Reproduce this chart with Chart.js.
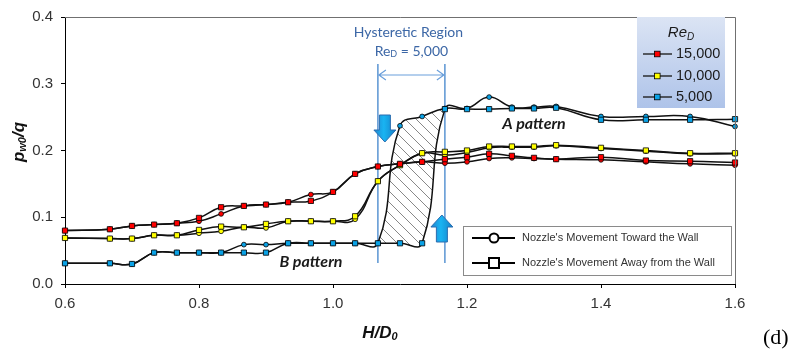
<!DOCTYPE html>
<html>
<head>
<meta charset="utf-8">
<script src="https://cdn.jsdelivr.net/npm/chart.js@4.4.0/dist/chart.umd.min.js"></script>
<style>
  html, body { margin: 0; padding: 0; background: #ffffff; }
  canvas { display: block; }
</style>
</head>
<body>
<canvas id="chart" width="796" height="349"></canvas>
<script>
// Nozzle-to-wall distance stations, H/D0
const hd = [0.6, 0.667, 0.7, 0.733, 0.767, 0.8, 0.833, 0.867, 0.9, 0.933, 0.967, 1.0, 1.033,
            1.067, 1.1, 1.133, 1.167, 1.2, 1.233, 1.267, 1.3, 1.333, 1.4, 1.467, 1.533, 1.6];

// Wall pressure coefficient pw0/q, nozzle moving toward the wall
const re15Toward = [0.080, 0.082, 0.087, 0.089, 0.091, 0.094, 0.105, 0.117, 0.119, 0.1225, 0.134, 0.138, 0.165,
                    0.176, 0.180, 0.183, 0.181, 0.183, 0.188, 0.189, 0.188, 0.187, 0.186, 0.183, 0.180, 0.178];
const re10Toward = [0.069, 0.068, 0.068, 0.073, 0.073, 0.076, 0.079, 0.085, 0.084, 0.094, 0.094, 0.094, 0.097,
                    0.154, 0.178, 0.196, 0.193, 0.197, 0.204, 0.205, 0.205, 0.207, 0.203, 0.199, 0.195, 0.195];
const re5Toward  = [0.031, 0.031, 0.030, 0.047, 0.047, 0.047, 0.047, 0.059, 0.059, 0.061, 0.061, 0.061, 0.061,
                    0.061, 0.237, 0.251, 0.263, 0.263, 0.280, 0.265, 0.265, 0.266, 0.251, 0.251, 0.251, 0.236];

// Wall pressure coefficient pw0/q, nozzle moving away from the wall
const re15Away = [0.080, 0.082, 0.087, 0.089, 0.091, 0.099, 0.115, 0.117, 0.119, 0.1225, 0.1245, 0.138, 0.165,
                  0.176, 0.180, 0.183, 0.187, 0.190, 0.195, 0.192, 0.189, 0.187, 0.190, 0.185, 0.184, 0.182];
const re10Away = [0.069, 0.068, 0.068, 0.073, 0.073, 0.081, 0.086, 0.085, 0.090, 0.094, 0.094, 0.094, 0.1015,
                  0.154, 0.178, 0.196, 0.198, 0.200, 0.206, 0.206, 0.206, 0.208, 0.204, 0.200, 0.196, 0.196];
const re5Away  = [0.031, 0.031, 0.030, 0.047, 0.047, 0.047, 0.047, 0.047, 0.047, 0.061, 0.061, 0.061, 0.061,
                  0.061, 0.061, 0.061, 0.262, 0.262, 0.262, 0.263, 0.263, 0.264, 0.246, 0.246, 0.246, 0.247];

// Axis ticks and legend texts
const xTicks = [0.6, 0.8, 1.0, 1.2, 1.4, 1.6];
const yTicks = [0.0, 0.1, 0.2, 0.3, 0.4];
const reLabels = ['15,000', '10,000', '5,000'];
const moveLabels = ["Nozzle's Movement Toward the Wall", "Nozzle's Movement Away from the Wall"];

// Hysteretic region bounds for ReD = 5,000 (H/D0)
const hystStart = 1.067;
const hystEnd = 1.167;

const RED = '#ff0000', YELLOW = '#ffff00', BLUE = '#0aa2e6';
const SANS = '"Liberation Sans", Arial, sans-serif';

function series(label, ys, color, style) {
  return {
    label,
    data: hd.map((x, i) => ({ x, y: ys[i] })),
    borderColor: '#111111',
    borderWidth: 1.5,
    backgroundColor: color,
    pointBackgroundColor: color,
    pointBorderColor: '#000000',
    pointBorderWidth: 0.8,
    pointStyle: style,
    pointRadius: style === 'rect' ? 3.7 : 2.4,
    tension: 0.45,
    fill: false,
    clip: false
  };
}

const datasets = [
  series('15,000 away', re15Away, RED, 'rect'),
  series('10,000 away', re10Away, YELLOW, 'rect'),
  series('5,000 away', re5Away, BLUE, 'rect'),
  series('15,000 toward', re15Toward, RED, 'circle'),
  series('10,000 toward', re10Toward, YELLOW, 'circle'),
  series('5,000 toward', re5Toward, BLUE, 'circle')
];

// diagonal hatch tile for the hysteresis loop
function hatchPattern(ctx) {
  const s = 11;
  const tile = document.createElement('canvas');
  tile.width = s; tile.height = s;
  const t = tile.getContext('2d');
  t.strokeStyle = '#7a7a7a';
  t.lineWidth = 0.9;
  t.beginPath();
  t.moveTo(0, 0); t.lineTo(s, s);
  t.moveTo(-s / 2, s / 2); t.lineTo(s / 2, s * 1.5);
  t.moveTo(s / 2, -s / 2); t.lineTo(s * 1.5, s / 2);
  t.stroke();
  return ctx.createPattern(tile, 'repeat');
}

function richText(ctx, parts, x, y, align) {
  let w = 0;
  parts.forEach(p => { ctx.font = p[1]; w += ctx.measureText(p[0]).width; });
  let cx = align === 'center' ? x - w / 2 : (align === 'right' ? x - w : x);
  ctx.textAlign = 'left';
  ctx.textBaseline = 'middle';
  parts.forEach(p => {
    ctx.font = p[1];
    ctx.fillText(p[0], cx, y + (p[2] || 0));
    cx += ctx.measureText(p[0]).width;
  });
}

function curvePath(ctx, pts, i0, i1) {
  ctx.moveTo(pts[i0].x, pts[i0].y);
  for (let i = i0 + 1; i <= i1; i++) {
    ctx.bezierCurveTo(pts[i - 1].cp2x, pts[i - 1].cp2y, pts[i].cp1x, pts[i].cp1y, pts[i].x, pts[i].y);
  }
}

function blockArrow(ctx, cx, yTail, yTip, headW, shaftW, headLen) {
  const dir = yTip > yTail ? 1 : -1;
  const yBase = yTip - dir * headLen;
  ctx.beginPath();
  ctx.moveTo(cx - shaftW / 2, yTail);
  ctx.lineTo(cx + shaftW / 2, yTail);
  ctx.lineTo(cx + shaftW / 2, yBase);
  ctx.lineTo(cx + headW / 2, yBase);
  ctx.lineTo(cx, yTip);
  ctx.lineTo(cx - headW / 2, yBase);
  ctx.lineTo(cx - shaftW / 2, yBase);
  ctx.closePath();
  const g = ctx.createLinearGradient(cx - headW / 2, 0, cx + headW / 2, 0);
  g.addColorStop(0, '#1f86cf');
  g.addColorStop(0.45, '#19b4f2');
  g.addColorStop(1, '#1580c8');
  ctx.fillStyle = g;
  ctx.fill();
  ctx.strokeStyle = '#2a6db0';
  ctx.lineWidth = 1;
  ctx.stroke();
}

const decor = {
  id: 'decor',
  beforeDatasetsDraw(chart) {
    const ctx = chart.ctx;
    const xs = chart.scales.x;
    const area = chart.chartArea;
    const towardMeta = chart.getDatasetMeta(5);
    const awayMeta = chart.getDatasetMeta(2);
    towardMeta.dataset.updateControlPoints(area, 'x');
    awayMeta.dataset.updateControlPoints(area, 'x');
    const i0 = hd.indexOf(hystStart), i1 = hd.indexOf(hystEnd);
    const tp = towardMeta.data, ap = awayMeta.data;

    // hatched area between the two Re=5,000 branches
    ctx.save();
    ctx.beginPath();
    curvePath(ctx, ap, i0, i1);
    ctx.lineTo(ap[i1].x + 2, area.top);
    ctx.lineTo(ap[i0].x - 2, area.top);
    ctx.closePath();
    ctx.clip();
    ctx.beginPath();
    curvePath(ctx, tp, i0, i1);
    ctx.lineTo(tp[i1].x + 2, area.bottom);
    ctx.lineTo(tp[i0].x - 2, area.bottom);
    ctx.closePath();
    ctx.fillStyle = hatchPattern(ctx);
    ctx.fill();
    ctx.restore();

    // region bounds
    const xa = xs.getPixelForValue(hystStart), xb = xs.getPixelForValue(hystEnd);
    ctx.save();
    ctx.strokeStyle = '#5b95d3';
    ctx.lineWidth = 1.5;
    ctx.beginPath();
    ctx.moveTo(xa, 64); ctx.lineTo(xa, 263);
    ctx.moveTo(xb, 64); ctx.lineTo(xb, 263);
    ctx.stroke();
    ctx.restore();
  },
  afterDatasetsDraw(chart) {
    const ctx = chart.ctx;
    const xs = chart.scales.x;
    const area = chart.chartArea;
    const xa = xs.getPixelForValue(hystStart), xb = xs.getPixelForValue(hystEnd);

    ctx.save();
    // frame top and right
    ctx.strokeStyle = '#707070';
    ctx.lineWidth = 1;
    ctx.beginPath();
    ctx.moveTo(area.left, area.top + 0.5);
    ctx.lineTo(area.right + 0.5, area.top + 0.5);
    ctx.lineTo(area.right + 0.5, area.bottom);
    ctx.stroke();

    // double arrow spanning the region
    const ya = 75;
    ctx.strokeStyle = '#6a9fdb';
    ctx.lineWidth = 1.2;
    ctx.beginPath();
    ctx.moveTo(xa + 1, ya); ctx.lineTo(xb - 1, ya);
    ctx.moveTo(xa + 8, ya - 5); ctx.lineTo(xa + 1, ya); ctx.lineTo(xa + 8, ya + 5);
    ctx.moveTo(xb - 8, ya - 5); ctx.lineTo(xb - 1, ya); ctx.lineTo(xb - 8, ya + 5);
    ctx.stroke();

    // region caption
    ctx.fillStyle = '#3c67a6';
    const mid = (xa + xb) / 2;
    richText(ctx, [['Hysteretic Region', '14px Lato, "Open Sans", sans-serif']], mid - 3, 32, 'center');
    richText(ctx, [['Re', '14px Lato, "Open Sans", sans-serif'],
                   ['D', '9px Lato, "Open Sans", sans-serif', 3],
                   [' = 5,000', '14px Lato, "Open Sans", sans-serif']], mid, 51, 'center');

    // direction arrows
    blockArrow(ctx, xa + 7, 115, 142, 22, 11, 12);
    blockArrow(ctx, xb - 3, 242, 215, 22, 11, 12);

    // pattern labels
    ctx.fillStyle = '#1a1a1a';
    richText(ctx, [['A pattern', 'italic bold 16px Lato, "Open Sans", sans-serif']], 534, 124, 'center');
    richText(ctx, [['B pattern', 'italic bold 16px Lato, "Open Sans", sans-serif']], 311, 262, 'center');

    // Re legend box
    const bx = 637, by = 17, bw = 88, bh = 91;
    const g = ctx.createLinearGradient(0, by, 0, by + bh);
    g.addColorStop(0, '#dbe4f4');
    g.addColorStop(1, '#aec3e9');
    ctx.fillStyle = g;
    ctx.fillRect(bx, by, bw, bh);
    ctx.fillStyle = '#1a1a1a';
    richText(ctx, [['Re', 'italic 15px ' + SANS], ['D', 'italic 10px ' + SANS, 4]], 681, 33, 'center');
    const reColors = [RED, YELLOW, BLUE];
    const rowY = [54, 76, 97];
    reLabels.forEach((lab, i) => {
      const y = rowY[i];
      ctx.strokeStyle = '#222222';
      ctx.lineWidth = 1.4;
      ctx.beginPath(); ctx.moveTo(643, y); ctx.lineTo(672, y); ctx.stroke();
      ctx.fillStyle = reColors[i];
      ctx.fillRect(654.5, y - 2.8, 5.6, 5.6);
      ctx.strokeStyle = '#000'; ctx.lineWidth = 0.8;
      ctx.strokeRect(654.5, y - 2.8, 5.6, 5.6);
      ctx.fillStyle = '#1a1a1a';
      richText(ctx, [[lab, '14.5px ' + SANS]], 676, y, 'left');
    });

    // movement-direction legend box
    const lx = 463.5, ly = 226.5, lw = 268, lh = 49;
    ctx.fillStyle = '#ffffff';
    ctx.fillRect(lx, ly, lw, lh);
    ctx.strokeStyle = '#8a8a8a'; ctx.lineWidth = 1;
    ctx.strokeRect(lx, ly, lw, lh);
    const ry = [238, 263];
    ry.forEach((y, i) => {
      ctx.strokeStyle = '#000'; ctx.lineWidth = 2;
      ctx.beginPath(); ctx.moveTo(472, y); ctx.lineTo(515, y); ctx.stroke();
      ctx.fillStyle = '#fff';
      if (i === 0) {
        ctx.beginPath(); ctx.arc(494, y, 4.5, 0, Math.PI * 2); ctx.fill(); ctx.stroke();
      } else {
        ctx.fillRect(489, y - 5, 10, 10); ctx.strokeRect(489, y - 5, 10, 10);
      }
      ctx.fillStyle = '#333333';
      richText(ctx, [[moveLabels[i], '11px ' + SANS]], 522, y, 'left');
    });

    // axis titles
    ctx.fillStyle = '#111111';
    richText(ctx, [['H/D', 'italic bold 17px ' + SANS], ['0', 'italic bold 11px ' + SANS, 4]], 380, 333, 'center');
    ctx.translate(19, 142);
    ctx.rotate(-Math.PI / 2);
    richText(ctx, [['p', 'italic bold 17px ' + SANS], ['w0', 'italic bold 11px ' + SANS, 4], ['/q', 'italic bold 17px ' + SANS]], 0, 0, 'center');
    ctx.restore();

    // panel tag
    ctx.save();
    ctx.fillStyle = '#000';
    ctx.font = '22px "Liberation Serif", "Times New Roman", serif';
    ctx.textAlign = 'left';
    ctx.textBaseline = 'alphabetic';
    ctx.fillText('(d)', 763, 344);
    ctx.restore();
  }
};

new Chart(document.getElementById('chart'), {
  type: 'line',
  data: { datasets },
  options: {
    responsive: false,
    animation: false,
    layout: { padding: { top: 12, right: 61, left: 0, bottom: 0 } },
    plugins: { legend: { display: false }, tooltip: { enabled: false } },
    scales: {
      x: {
        type: 'linear',
        min: 0.6, max: 1.6,
        afterBuildTicks: s => { s.ticks = xTicks.map(v => ({ value: v })); },
        afterFit: s => { s.height = 65; },
        border: { display: true, color: '#000', width: 1 },
        grid: { drawOnChartArea: false, drawTicks: true, tickLength: 4, color: '#000' },
        ticks: { callback: v => v.toFixed(1), font: { family: SANS, size: 15 }, color: '#333', padding: 7, maxRotation: 0 }
      },
      y: {
        min: 0, max: 0.4,
        afterBuildTicks: s => { s.ticks = yTicks.map(v => ({ value: v })); },
        afterFit: s => { s.width = 65; },
        border: { display: true, color: '#000', width: 1 },
        grid: { drawOnChartArea: false, drawTicks: true, tickLength: 4, color: '#000' },
        ticks: { callback: v => v.toFixed(1), font: { family: SANS, size: 15 }, color: '#333', padding: 8 }
      }
    }
  },
  plugins: [decor]
});
</script>
</body>
</html>
